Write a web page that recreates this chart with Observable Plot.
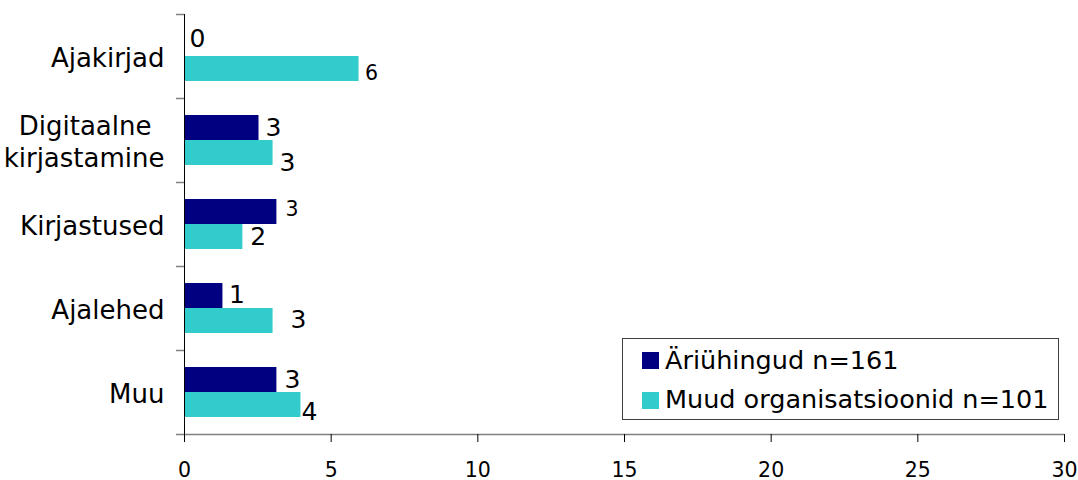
<!DOCTYPE html>
<html>
<head>
<meta charset="utf-8">
<script src="https://cdn.jsdelivr.net/npm/d3@7"></script>
<script src="https://cdn.jsdelivr.net/npm/@observablehq/plot@0.6"></script>
<style>
  body { margin: 0; background: #fff; }
  #wrap { position: relative; width: 1078px; height: 480px; font-family: "DejaVu Sans", Verdana, sans-serif; }
  #legend { position: absolute; left: 622px; top: 338px; width: 435px; height: 80px; border: 1px solid #404040; background: #fff; }
  .sw { position: absolute; left: 19px; width: 17px; height: 17px; }
  .lt { position: absolute; left: 42px; font-size: 25.5px; line-height: 26px; color: #000; white-space: nowrap; }
</style>
</head>
<body>
<div id="wrap"></div>
<script>
// ---- data ----
const categories = ["Ajakirjad", "Digitaalne kirjastamine", "Kirjastused", "Ajalehed", "Muu"];
const seriesNames = ["Äriühingud n=161", "Muud organisatsioonid n=101"];
const ariuhingud = [0, 2.54, 3.15, 1.31, 3.15];
const muudOrg = [5.95, 3.02, 1.99, 3.02, 3.97];
const labelsAri = ["0", "3", "3", "1", "3"];
const labelsMuud = ["6", "3", "2", "3", "4"];
const xTicks = [0, 5, 10, 15, 20, 25, 30];
const colors = ["#000080", "#33CCCC"];

const rows = categories.map((c, i) => ({
  cat: c, ari: ariuhingud[i], muud: muudOrg[i], la: labelsAri[i], lm: labelsMuud[i], i
}));

// label nudges (style only)
const nudgeAri = [
  {dx: 5, dy: -17.5, fs: 25},
  {dx: 6.5, dy: -12.5, fs: 25},
  {dx: 8.5, dy: -15, fs: 20.5},
  {dx: 6, dy: -13.5, fs: 25},
  {dx: 7.5, dy: -13, fs: 25}
];
const nudgeMuud = [
  {dx: 6, dy: 16.5, fs: 20.5},
  {dx: 6.5, dy: 22.5, fs: 25},
  {dx: 7.5, dy: 12.5, fs: 25},
  {dx: 17.5, dy: 11.5, fs: 25},
  {dx: 0.5, dy: 19.5, fs: 25}
];

const labelMarks = [];
rows.forEach((r, i) => {
  const a = nudgeAri[i], m = nudgeMuud[i];
  labelMarks.push(Plot.text([r], {x: "ari", y: "cat", text: "la", textAnchor: "start", dx: a.dx, dy: a.dy, fontSize: a.fs, fill: "black"}));
  labelMarks.push(Plot.text([r], {x: "muud", y: "cat", text: "lm", textAnchor: "start", dx: m.dx, dy: m.dy, fontSize: m.fs, fill: "black"}));
});

// wrapped category label: first line padded so the two lines sit roughly centred
const wrapLabel = d => d.includes(" ") ? d.replace(" ", "\u2002\n") : d;

const chart = Plot.plot({
  width: 1078,
  height: 480,
  marginLeft: 184,
  marginRight: 14,
  marginTop: 14,
  marginBottom: 46,
  style: {fontFamily: "'DejaVu Sans', Verdana, sans-serif", background: "white", color: "black", overflow: "visible"},
  x: {domain: [0, 30], ticks: xTicks, label: null},
  y: {type: "band", domain: categories, padding: 0, label: null},
  marks: [
    Plot.barX(rows, {x: "ari", y: "cat", fill: colors[0], insetTop: 17, insetBottom: 42}),
    Plot.barX(rows, {x: "muud", y: "cat", fill: colors[1], insetTop: 42, insetBottom: 17}),
    // category boundary ticks
    Plot.axisY({ticks: categories, tickSize: 8, dy: -42, stroke: "#808080", tickFormat: () => "", strokeWidth: 1.5, label: null}),
    Plot.axisY({ticks: [categories[categories.length - 1]], tickSize: 8, dy: 42, stroke: "#808080", tickFormat: () => "", strokeWidth: 1.5, label: null}),
    // category labels
    Plot.axisY({tickSize: 0, tickPadding: 20, fontSize: 26, lineHeight: 1.24, tickFormat: wrapLabel, fill: "black", label: null}),
    // x axis baseline
    Plot.ruleY([categories[categories.length - 1]], {dy: 42, stroke: "#808080", strokeWidth: 1.5}),
    // x axis
    Plot.axisX({ticks: xTicks, tickSize: 8, tickPadding: 20, fontSize: 20.5, stroke: "black", fill: "black", label: null}),
    // y axis line
    Plot.ruleX([0], {stroke: "black"}),
    ...labelMarks
  ]
});

const wrap = document.getElementById("wrap");
wrap.appendChild(chart);

// legend
const legend = document.createElement("div");
legend.id = "legend";
seriesNames.forEach((name, i) => {
  const sw = document.createElement("div");
  sw.className = "sw";
  sw.style.top = (13 + i * 40) + "px";
  sw.style.background = colors[i];
  legend.appendChild(sw);
  const t = document.createElement("div");
  t.className = "lt";
  t.style.top = (8 + i * 39) + "px";
  t.textContent = name;
  legend.appendChild(t);
});
wrap.appendChild(legend);
</script>
</body>
</html>
